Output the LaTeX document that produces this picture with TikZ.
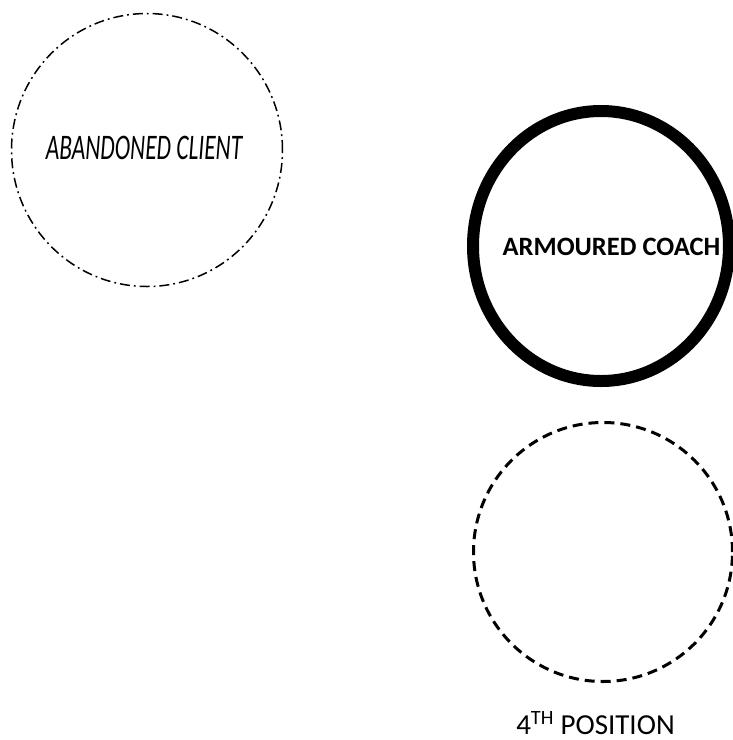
\documentclass[tikz,border=0pt]{standalone}
\usepackage{fontspec}
\setmainfont{Carlito}
\usetikzlibrary{shapes.geometric}

\tikzset{
  ring/.style={ellipse, draw=black, inner sep=0pt, outer sep=0pt},
  dashdotring/.style={ring, line width=1.5pt,
    dash pattern=on 10pt off 4pt on 1.8pt off 4pt},
  boldring/.style={ring, line width=12pt},
  dashring/.style={ring, line width=3pt, dash pattern=on 10pt off 6pt},
  handlabel/.style={font=\fontsize{36}{40}\selectfont\itshape, inner sep=0pt},
  boldlabel/.style={font=\fontsize{26.5}{31}\selectfont\bfseries, inner sep=0pt},
  plainlabel/.style={font=\fontsize{29}{34}\selectfont, inner sep=0pt, anchor=base}
}

\begin{document}
\begin{tikzpicture}[x=1pt, y=-1pt]
  \useasboundingbox (0,0) rectangle (733,740);

  % the three rings
  \node[dashdotring, minimum width=271pt, minimum height=273pt] (client) at (147,150) {};
  \node[boldring, minimum width=256pt, minimum height=270pt] (coach) at (601,246) {};
  \node[dashring, minimum width=259pt, minimum height=259pt] (fourth) at (603,552) {};

  % labels
  \node[handlabel] (clientlabel) at (144,147.5) {\scalebox{0.65}[1]{ABANDONED CLIENT}};
  \node[boldlabel] (coachlabel) at (611.5,246.5) {ARMOURED COACH};
  \node[plainlabel] (fourthlabel) at (595.5,734) {4\textsuperscript{TH} POSITION};
\end{tikzpicture}
\end{document}
